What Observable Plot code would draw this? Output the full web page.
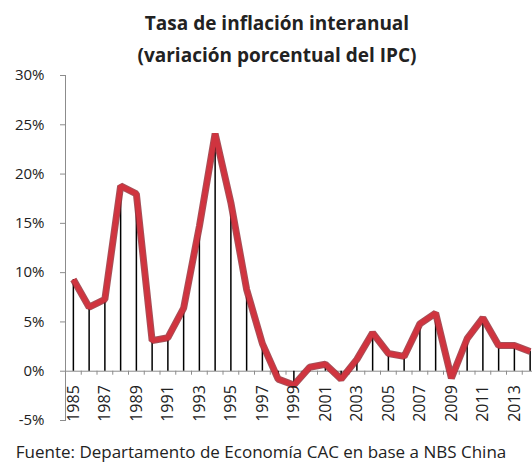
<!DOCTYPE html>
<html>
<head>
<meta charset="utf-8">
<script src="https://cdn.jsdelivr.net/npm/d3@7"></script>
<script src="https://cdn.jsdelivr.net/npm/@observablehq/plot@0.6"></script>
<style>
  html, body { margin: 0; padding: 0; background: #fff; }
  body { width: 532px; height: 467px; overflow: hidden; font-family: "Open Sans", sans-serif; color: #222; }
  #title { box-sizing: border-box; height: 56px; padding-top: 7px; padding-left: 22px; text-align: center;
           font-weight: bold; font-size: 19px; line-height: 32px; white-space: nowrap; overflow: visible; }
  #chart { height: 376px; }
  #chart svg { display: block; overflow: visible; }
  #caption { box-sizing: border-box; height: 35px; padding-top: 10px; padding-right: 10px; text-align: center;
             font-size: 17px; line-height: 20px; white-space: nowrap; }
</style>
</head>
<body>
<div id="title">Tasa de inflación interanual<br>(variación porcentual del IPC)</div>
<div id="chart"></div>
<div id="caption">Fuente: Departamento de Economía CAC en base a NBS China</div>
<script>
const years = [1985,1986,1987,1988,1989,1990,1991,1992,1993,1994,1995,1996,1997,1998,1999,
               2000,2001,2002,2003,2004,2005,2006,2007,2008,2009,2010,2011,2012,2013,2014];
const inflation = [9.3,6.5,7.3,18.8,18.0,3.1,3.4,6.4,14.7,24.1,17.1,8.3,2.8,-0.8,-1.4,
                   0.4,0.7,-0.8,1.2,3.9,1.8,1.5,4.8,5.9,-0.7,3.3,5.4,2.6,2.6,2.0];
const yTicks = [-5,0,5,10,15,20,25,30];
const xLabelYears = [1985,1987,1989,1991,1993,1995,1997,1999,2001,2003,2005,2007,2009,2011,2013];

const data = years.map((year, i) => ({year, value: inflation[i]}));
const boundaries = years.map(y => y - 0.5);
const grey = "#8c8c8c";

const plot = Plot.plot({
  width: 532,
  height: 376,
  marginLeft: 65,
  marginRight: 0,
  marginTop: 19,
  marginBottom: 12,
  style: {fontFamily: "'Open Sans', sans-serif", fontSize: "15px", color: "#222", background: "transparent", overflow: "visible"},
  x: {domain: [1984.5, 2014.15], axis: null},
  y: {domain: [-5, 30]},
  marks: [
    Plot.frame({anchor: "left", stroke: grey}),
    Plot.axisY({ticks: yTicks, tickFormat: d => d + "%", tickSize: 5, tickPadding: 16,
                stroke: grey, fill: "#222", fontSize: 15, label: null}),
    Plot.ruleY([0], {stroke: grey, strokeWidth: 1}),
    Plot.ruleX(boundaries, {x: d => d, y1: 0, y2: 0, insetBottom: -4, stroke: grey}),
    Plot.ruleX(data, {x: "year", y1: 0, y2: "value", stroke: "#000", strokeWidth: 1.5}),
    Plot.line(data, {x: "year", y: "value", stroke: "#8e2630", strokeWidth: 7, strokeOpacity: 0.8,
                     strokeLinejoin: "miter", strokeLinecap: "butt"}),
    Plot.line(data, {x: "year", y: "value", stroke: "#d0343f", strokeWidth: 5,
                     strokeLinejoin: "miter", strokeLinecap: "butt"}),
    Plot.text(xLabelYears, {x: d => d, y: () => 0, text: d => String(d), rotate: -90,
                            textAnchor: "end", lineAnchor: "middle", dy: 14, fontSize: 16, fill: "#222"})
  ]
});
document.getElementById("chart").appendChild(plot);
</script>
</body>
</html>
